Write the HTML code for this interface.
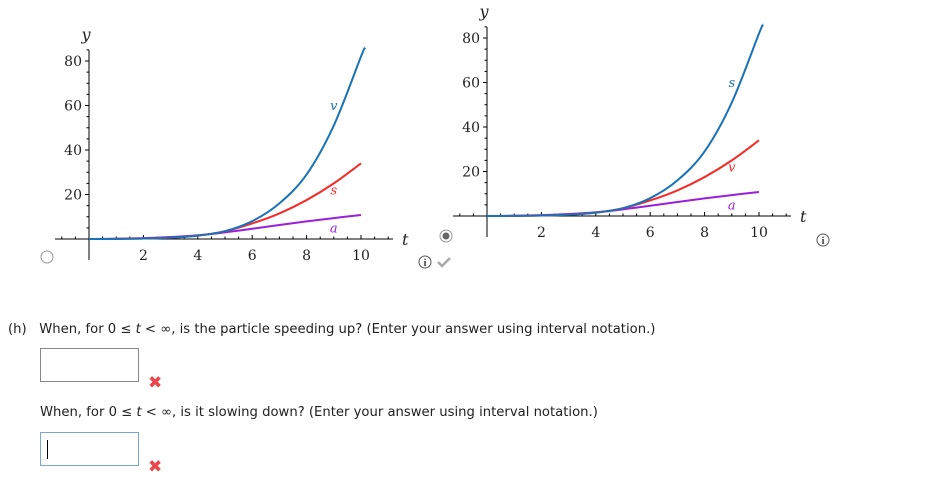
<!DOCTYPE html>
<html><head><meta charset="utf-8">
<style>
body{margin:0;width:927px;height:493px;background:#fff;position:relative;overflow:hidden;font-family:"DejaVu Sans","Liberation Sans",sans-serif;}
.abs{position:absolute}
.q{font-size:13.2px;color:#222;white-space:nowrap}
.box{position:absolute;width:97px;height:32px;border:1px solid #888;background:#fff}
.xm{position:absolute;color:#e8474c;font-size:17px;font-weight:bold;line-height:1}
</style></head><body>
<svg class="abs" style="left:0;top:0" width="927" height="300">
<g id="c1"></g>
<g id="c2"></g>
<circle cx="47" cy="257" r="6" fill="#fff" stroke="#999"/>
<circle cx="446" cy="236" r="6" fill="#fff" stroke="#999"/>
<circle cx="446" cy="236" r="3.5" fill="#666"/>
<g><circle cx="425" cy="262" r="6" fill="#fff" stroke="#555"/><text x="425" y="266" font-size="10" text-anchor="middle" font-family="Liberation Serif" font-weight="bold" fill="#333">i</text></g>
<path d="M438,262 l4,4 l8,-8" stroke="#aaa" stroke-width="2.5" fill="none"/>
<g><circle cx="823" cy="240" r="6" fill="#fff" stroke="#555"/><text x="823" y="244" font-size="10" text-anchor="middle" font-family="Liberation Serif" font-weight="bold" fill="#333">i</text></g>
</svg>
<div class="abs q" style="left:8px;top:322px">(h)&nbsp;&nbsp;&nbsp;When, for 0 ≤ <i>t</i> &lt; ∞, is the particle speeding up? (Enter your answer using interval notation.)</div>
<div class="box" style="left:40px;top:348px"></div>
<div class="xm" style="left:148px;top:375px">✖</div>
<div class="abs q" style="left:40px;top:405px">When, for 0 ≤ <i>t</i> &lt; ∞, is it slowing down? (Enter your answer using interval notation.)</div>
<div class="box" style="left:40px;top:432px;border-color:#7aa6d6"><div style="position:absolute;left:6px;top:7px;width:1px;height:19px;background:#000"></div></div>
<div class="xm" style="left:148px;top:459px">✖</div>
<script>
const tVals=[0,1,2,3,4,5,6,7,8,9,10,10.15];
const fastSeries=[0,0.05,0.2,0.6,1.5,3.5,8,16,29,51,82,86];
const midSeries=[0,0.05,0.2,0.6,1.5,3.5,7,11.5,17.5,25,34,34];
const slowSeries=[0,0.1,0.4,0.9,1.7,3,4.6,6.3,7.9,9.4,10.8,10.8];
const xTicks=[2,4,6,8,10];
const yTicks=[20,40,60,80];
const NS='http://www.w3.org/2000/svg';
function mk(tag,attrs,parent){const e=document.createElementNS(NS,tag);for(const k in attrs)e.setAttribute(k,attrs[k]);parent.appendChild(e);return e;}
function chart(g,ox,oy,ytop,labels){
  const sx=t=>ox+t*27.2, sy=v=>oy-v*2.225;
  mk('line',{x1:ox-34,y1:oy,x2:ox+304,y2:oy,stroke:'#000'},g);
  mk('line',{x1:ox,y1:ytop,x2:ox,y2:oy+21,stroke:'#000'},g);
  for(let t=-1;t<=11;t+=0.5){if(t===0)continue;mk('line',{x1:sx(t),y1:oy,x2:sx(t),y2:oy-(t%2===0?4:2.5),stroke:'#000'},g);}
  for(let v=5;v<=85;v+=5){mk('line',{x1:ox,y1:sy(v),x2:ox-(v%20===0?4:2.5),y2:sy(v),stroke:'#000'},g);}
  xTicks.forEach(t=>{const e=mk('text',{x:sx(t),y:oy+21,'font-size':14,'text-anchor':'middle','font-family':'DejaVu Serif',fill:'#222'},g);e.textContent=t;
    
    });
  yTicks.forEach(v=>{const e=mk('text',{x:ox-7,y:sy(v)+5,'font-size':14,'text-anchor':'end','font-family':'DejaVu Serif',fill:'#222'},g);e.textContent=v;
    
    });
  const yl=mk('text',{x:ox-3,y:ytop-10,'font-size':16,'font-style':'italic','font-family':'DejaVu Serif',fill:'#222','text-anchor':'middle'},g);yl.textContent='y';
  
  
  const tl=mk('text',{x:ox+313,y:oy+6,'font-size':16,'font-style':'italic','font-family':'DejaVu Serif',fill:'#222'},g);tl.textContent='t';
  
  
  const series=[[slowSeries,'#9b1fd6',labels[2],10.0],[midSeries,'#f52a2a',labels[1],10.0],[fastSeries,'#1a72b8',labels[0],10.15]];
  series.forEach(([vals,col,lab,tmax])=>{
    const pts=[];tVals.forEach((t,i)=>{if(t<=tmax)pts.push([sx(t),sy(vals[i])]);});
    let d='M'+pts[0][0]+','+pts[0][1];
    for(let i=0;i<pts.length-1;i++){const p0=pts[Math.max(0,i-1)],p1=pts[i],p2=pts[i+1],p3=pts[Math.min(pts.length-1,i+2)];
      d+=' C'+(p1[0]+(p2[0]-p0[0])/6)+','+(p1[1]+(p2[1]-p0[1])/6)+' '+(p2[0]-(p3[0]-p1[0])/6)+','+(p2[1]-(p3[1]-p1[1])/6)+' '+p2[0]+','+p2[1];}
    const p=mk('path',{d:d,stroke:col,'stroke-width':2,fill:'none'},g);
    
    
    const lt=mk('text',{x:sx(9),y:sy(lab.v),'font-size':13,'font-style':'italic','font-family':'DejaVu Serif',fill:col,'text-anchor':'middle'},g);lt.textContent=lab.n;
    
    
  });
}
chart(document.getElementById('c1'),89,239,50,[{n:'v',v:58},{n:'s',v:20},{n:'a',v:3}]);
chart(document.getElementById('c2'),487,216,27,[{n:'s',v:58},{n:'v',v:20},{n:'a',v:3}]);
</script>
</body></html>
